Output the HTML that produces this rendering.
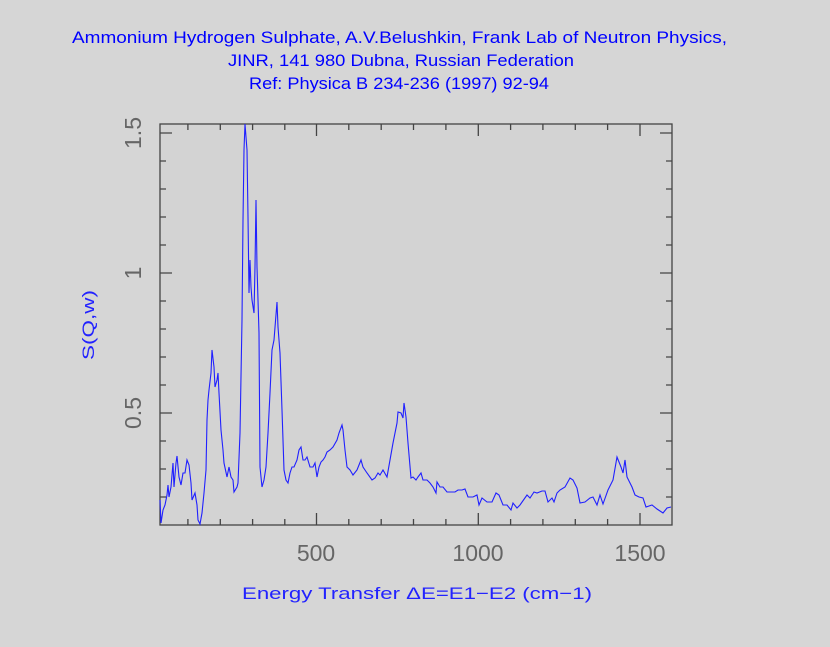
<!DOCTYPE html>
<html><head><meta charset="utf-8"><style>
body{margin:0;background:#d6d6d6;}
svg{display:block}
</style></head><body>
<svg width="830" height="647" xmlns="http://www.w3.org/2000/svg">
<rect width="830" height="647" fill="#d6d6d6"/>
<rect x="160" y="124" width="512" height="401" fill="#d3d3d3"/>
<g font-family="Liberation Sans, sans-serif" font-size="17" fill="#0000ff">
<text x="72" y="43" textLength="655" lengthAdjust="spacingAndGlyphs">Ammonium Hydrogen Sulphate, A.V.Belushkin, Frank Lab of Neutron Physics,</text>
<text x="228" y="66" textLength="346" lengthAdjust="spacingAndGlyphs">JINR, 141 980 Dubna, Russian Federation</text>
<text x="249" y="89" textLength="300" lengthAdjust="spacingAndGlyphs">Ref: Physica B 234-236 (1997) 92-94</text>
</g>
<g stroke="#444" stroke-width="1.3" fill="none">
<rect x="160" y="124" width="512" height="401"/>
<path d="M160,133h12M160,273h12M160,413h12M672,133h-12M672,273h-12M672,413h-12
M160,161h6M160,189h6M160,217h6M160,245h6M160,301h6M160,329h6M160,357h6M160,385h6M160,441h6M160,469h6M160,497h6
M672,161h-6M672,189h-6M672,217h-6M672,245h-6M672,301h-6M672,329h-6M672,357h-6M672,385h-6M672,441h-6M672,469h-6M672,497h-6
M316.5,525v-12M478.3,525v-12M640,525v-12M316.5,124v12M478.3,124v12M640,124v12
M187.9,525v-6M220.3,525v-6M252.6,525v-6M284.8,525v-6M348.8,525v-6M381.2,525v-6M413.5,525v-6M445.9,525v-6M510.6,525v-6M542.9,525v-6M575.3,525v-6M607.6,525v-6
M187.9,124v6M220.3,124v6M252.6,124v6M284.8,124v6M348.8,124v6M381.2,124v6M413.5,124v6M445.9,124v6M510.6,124v6M542.9,124v6M575.3,124v6M607.6,124v6"/>
</g>
<g font-family="Liberation Sans, sans-serif" font-size="23" fill="#666">
<text x="316" y="561" text-anchor="middle">500</text>
<text x="478" y="561" text-anchor="middle">1000</text>
<text x="640" y="561" text-anchor="middle">1500</text>
<text transform="translate(141,133) rotate(-90)" text-anchor="middle">1.5</text>
<text transform="translate(141,273) rotate(-90)" text-anchor="middle">1</text>
<text transform="translate(141,413) rotate(-90)" text-anchor="middle">0.5</text>
</g>
<g font-family="Liberation Sans, sans-serif" font-size="17" fill="#2222ff">
<text x="242" y="599" textLength="350" lengthAdjust="spacingAndGlyphs">Energy Transfer ΔE=E1−E2 (cm−1)</text>
<text transform="translate(94,360) rotate(-90)" textLength="70" lengthAdjust="spacingAndGlyphs">S(Q,w)</text>
</g>
<polyline fill="none" stroke="#2020ff" stroke-width="1.1" points="160,500 161,523 163,510 165,505 167,495 168,485 169,497 171,487 173,463 174,487 176,463 177,456 179,477 181,485 183,473 185,473 187,460 189,465 191,483 192,500 195,493 197,505 198,520 200,524 202,513 204,493 206,470 207,420 208,400 209,390 211,373 212,350 214,367 215,387 217,380 218,373 219,393 221,430 223,450 224,463 227,477 229,467 231,477 233,480 234,492 237,487 238,483 240,433 242,320 243,220 244,150 245,124 247,150 248,217 249,293 250,260 251,287 252,300 254,313 255,267 256,200 257,267 259,333 260,467 262,487 264,480 266,467 268,433 270,393 272,350 274,340 277,302 278,327 280,353 282,410 284,470 286,480 288,483 290,473 292,467 294,467 297,460 299,450 301,447 303,460 305,460 307,457 310,467 313,467 315,463 317,477 319,467 321,462 323,460 325,457 327,452 330,450 333,447 337,440 339,433 342,425 343,430 345,450 347,467 350,470 353,475 357,470 361,460 363,467 367,473 372,480 375,478 378,473 380,475 383,470 387,477 390,460 393,443 397,423 398,412 401,413 403,418 404,403 406,417 408,443 411,478 413,477 416,480 418,477 421,473 423,480 427,480 430,483 433,487 436,493 437,482 440,487 443,487 447,492 452,492 455,492 458,490 462,490 465,489 468,497 473,497 477,495 479,505 482,498 487,502 492,502 496,493 499,495 503,505 507,505 511,510 513,503 517,508 520,505 527,495 530,498 534,492 537,493 542,491 545,491 548,502 552,498 554,502 557,493 560,490 565,487 570,478 573,480 577,488 580,503 585,502 590,498 593,497 597,505 600,495 603,504 608,490 613,480 617,457 621,467 623,473 625,460 627,477 632,487 635,495 639,497 643,498 646,507 652,505 657,509 663,513 667,508 671,507"/>
</svg>
</body></html>
